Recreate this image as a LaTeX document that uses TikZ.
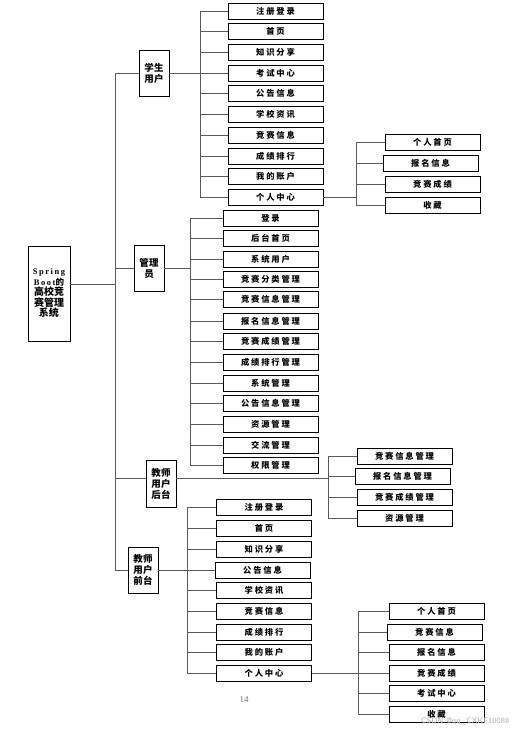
\documentclass[tikz,border=0pt]{standalone}
\usepackage{fontspec}
\setmainfont{Liberation Serif}
\newfontfamily\latsp{Liberation Serif}[LetterSpace=18]
\newfontfamily\cjk{Noto Sans CJK SC}[LetterSpace=22]
\newfontfamily\cjkt{Noto Sans CJK SC}
\newfontfamily\cjkc{Noto Sans CJK SC}[LetterSpace=5]
\begin{document}
\begin{tikzpicture}[x=1pt,y=-1pt,
  box/.style={draw=black,line width=0.9pt,fill=white,inner sep=0pt,font=\fontsize{8.3}{9.5}\selectfont\cjk\bfseries,align=center},
  leaf/.style={box,minimum width=95pt,minimum height=16pt},
  cat/.style={box,minimum width=30pt,minimum height=46pt,font=\fontsize{9.5}{11}\selectfont\cjkc\bfseries},
  conn/.style={draw=black!65,line width=0.9pt}]
\useasboundingbox (0,0) rectangle (515,735);
\fill[white] (0,0) rectangle (515,735);

% root
\node[box,minimum width=42pt,minimum height=95pt,font=\fontsize{8.5}{10.5}\selectfont\bfseries] (root) at (49,293.5)
  {{\latsp Spring}\\{\latsp Boot}{\cjkt 的}\\{\fontsize{10}{10.5}\selectfont\cjkt 高校竞}\\{\fontsize{10}{10.5}\selectfont\cjkt 赛管理}\\{\fontsize{10}{10.5}\selectfont\cjkt 系统}};
\coordinate (tr) at (115,284);

% categories
\node[cat] (stu) at (154,73) {学生\\用户};
\node[cat] (adm) at (149,268) {管理\\员};
\node[cat,minimum height=47pt] (tb) at (161,483.5) {教师\\用户\\后台};
\node[cat] (tf) at (143,570) {教师\\用户\\前台};

\draw[conn] (root.east |- 0,284) -- (tr);
\draw[conn] (tr) |- (stu.west);
\draw[conn] (tr) |- (adm.west);
\draw[conn] (tr) |- (tb.west |- 0,478);
\draw[conn] (tr) |- (tf.west);

% student children
\coordinate (sb) at (200,73);
\draw[conn] (stu.east) -- (sb);
\foreach \n/\y/\t in {s1/11/注册登录,s2/31/首页,s3/52/知识分享,s4/73/考试中心,s5/93/公告信息,s6/114/学校资讯,s7/135/竞赛信息,s8/156/成绩排行,s9/176/我的账户,s10/197/个人中心}{
  \node[leaf] (\n) at (275.5,\y) {\t};
  \draw[conn] (sb) |- (\n.west);
}
\coordinate (sp) at (356,197);
\draw[conn] (s10.east) -- (sp);
\foreach \n/\y/\x/\t in {sp1/142/432.5/个人首页,sp2/163/430.5/报名信息,sp3/184/432.5/竞赛成绩,sp4/205/432.5/收藏}{
  \node[leaf] (\n) at (\x,\y) {\t};
  \draw[conn] (sp) |- (\n.west);
}

% admin children
\coordinate (ab) at (190,268);
\draw[conn] (adm.east) -- (ab);
\foreach \n/\y/\t in {a1/218/登录,a2/238/后台首页,a3/259/系统用户,a4/279/竞赛分类管理,a5/299/竞赛信息管理,a6/321/报名信息管理,a7/341/竞赛成绩管理,a8/362/成绩排行管理,a9/383/系统管理,a10/403/公告信息管理,a11/424/资源管理,a12/445/交流管理,a13/465/权限管理}{
  \node[leaf] (\n) at (270.5,\y) {\t};
  \draw[conn] (ab) |- (\n.west);
}

% teacher backend children
\coordinate (bb) at (328,478);
\draw[conn] (tb.east |- 0,478) -- (bb);
\foreach \n/\y/\x/\t in {b1/456/404.5/竞赛信息管理,b2/476/402.5/报名信息管理,b3/497/404.5/竞赛成绩管理,b4/518/404.5/资源管理}{
  \node[leaf] (\n) at (\x,\y) {\t};
  \draw[conn] (bb) |- (\n.west);
}

% teacher front children
\coordinate (fb) at (187,570);
\draw[conn] (tf.east) -- (fb);
\foreach \n/\y/\x/\t in {f1/507/264/注册登录,f2/528/264/首页,f3/549/264/知识分享,f4/570/262.5/公告信息,f5/590/264/学校资讯,f6/611/264/竞赛信息,f7/632/264/成绩排行,f8/652/264/我的账户,f9/673/264/个人中心}{
  \node[leaf] (\n) at (\x,\y) {\t};
  \draw[conn] (fb) |- (\n.west);
}
\coordinate (fp) at (358,673);
\draw[conn] (f9.east) -- (fp);
\foreach \n/\y/\x/\t in {fp1/611/436.5/个人首页,fp2/632/434.5/竞赛信息,fp3/652/436.5/报名信息,fp4/673/436.5/竞赛成绩,fp5/693/436.5/考试中心,fp6/714/436.5/收藏}{
  \node[leaf] (\n) at (\x,\y) {\t};
  \draw[conn] (fp) |- (\n.west);
}

% page number and watermark
\node[text=black!55,font=\fontsize{9}{10}\selectfont] (pg) at (244,700) {14};
\node[text=black!30,font=\fontsize{8}{9}\selectfont\sffamily,anchor=east] (wm) at (513,721) {CSDN @qq\_CXKF10088};
\end{tikzpicture}
\end{document}
